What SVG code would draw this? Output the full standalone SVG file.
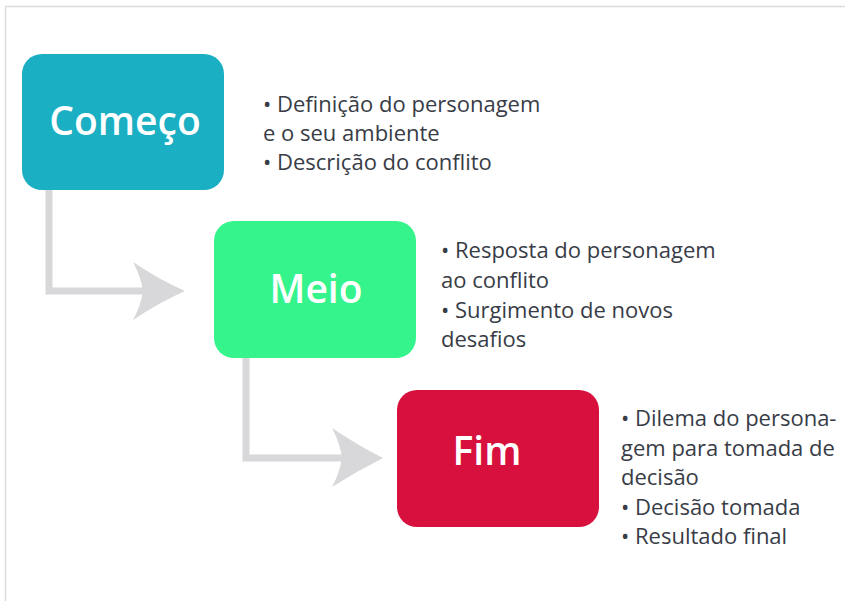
<svg xmlns="http://www.w3.org/2000/svg" width="845" height="601" viewBox="0 0 845 601">
  <style>
    .frame { fill: none; stroke: #dcdcdc; stroke-width: 1.5; }
    .box-title { font-family: "Open Sans", "Noto Sans", sans-serif; font-weight: 600; font-size: 39px; fill: #ffffff; text-anchor: middle; }
    .body { font-family: "Open Sans", "Noto Sans", sans-serif; font-size: 22px; fill: #383c46; }
    .conn-line { fill: none; stroke: #d8d8da; stroke-width: 7; }
    .conn-head { fill: #d8d8da; }
  </style>
  <rect x="0" y="0" width="845" height="601" fill="#ffffff"/>
  <path class="frame" d="M5.5,601 V6.5 H845"/>

  <g id="connectors">
    <path class="conn-line" d="M49,190 V291 H145"/>
    <path class="conn-head" d="M133,262 Q158,279 185,291 Q158,303 133,320 Q141,305 143,291 Q141,277 133,262 Z"/>
    <path class="conn-line" d="M246,357 V458 H344"/>
    <path class="conn-head" d="M332,428 Q357,445 383,458 Q357,471 332,487 Q340,472 342,458 Q340,443 332,428 Z"/>
  </g>

  <g id="node-comeco">
    <rect x="22" y="54" width="202" height="136" rx="20" fill="#1bafc3"/>
    <text class="box-title" x="125" y="135">Começo</text>
  </g>
  <g id="text-comeco">
    <text class="body" x="263" y="112">• Definição do personagem</text>
    <text class="body" x="263" y="141">e o seu ambiente</text>
    <text class="body" x="263" y="170">• Descrição do conflito</text>
  </g>

  <g id="node-meio">
    <rect x="214" y="221" width="202" height="137" rx="20" fill="#36f48c"/>
    <text class="box-title" x="316" y="303">Meio</text>
  </g>
  <g id="text-meio">
    <text class="body" x="441" y="258">• Resposta do personagem</text>
    <text class="body" x="441" y="288">ao conflito</text>
    <text class="body" x="441" y="318">• Surgimento de novos</text>
    <text class="body" x="441" y="347">desafios</text>
  </g>

  <g id="node-fim">
    <rect x="397" y="390" width="202" height="137" rx="20" fill="#d7103d"/>
    <text class="box-title" x="487" y="465">Fim</text>
  </g>
  <g id="text-fim">
    <text class="body" x="621" y="426">• Dilema do persona-</text>
    <text class="body" x="621" y="456">gem para tomada de</text>
    <text class="body" x="621" y="485">decisão</text>
    <text class="body" x="621" y="515">• Decisão tomada</text>
    <text class="body" x="621" y="544">• Resultado final</text>
  </g>
</svg>
